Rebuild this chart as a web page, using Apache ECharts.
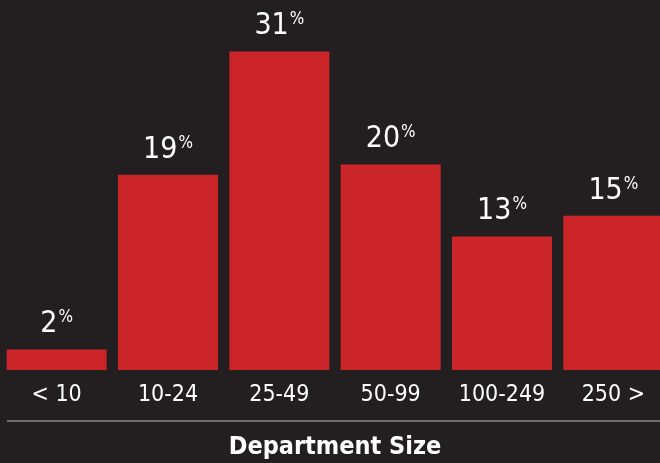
<!DOCTYPE html>
<html>
<head>
<meta charset="utf-8">
<script src="https://cdn.jsdelivr.net/npm/echarts@6/dist/echarts.min.js"></script>
<style>
  html, body { margin: 0; padding: 0; background: #231f20; }
  #chart { width: 660px; height: 463px; }
</style>
</head>
<body>
<div id="chart"></div>
<script>
// Share of departments by size band
const categories = ['< 10', '10-24', '25-49', '50-99', '100-249', '250 >'];
const shares = [2, 19, 31, 20, 13, 15];
const axisTitle = 'Department Size';

const FONT = '"Liberation Sans Narrow", "DejaVu Sans Condensed", "Roboto Condensed", Roboto, sans-serif';

const chart = echarts.init(document.getElementById('chart'));
chart.setOption({
  backgroundColor: '#231f20',
  animation: false,
  grid: { left: 1, width: 668, top: 0, bottom: 93, containLabel: false, outerBoundsMode: 'none' },
  xAxis: {
    type: 'category',
    data: categories,
    axisLine: { show: false },
    axisTick: { show: false },
    axisLabel: {
      interval: 0,
      color: '#ffffff',
      fontFamily: FONT,
      fontSize: 23,
      margin: 14
    }
  },
  yAxis: {
    type: 'value',
    min: 0,
    max: 36,
    show: false,
    splitLine: { show: false }
  },
  series: [{
    type: 'bar',
    data: shares,
    barWidth: 100,
    itemStyle: { color: '#cc2529' },
    label: {
      show: true,
      position: 'top',
      distance: 10,
      formatter: '{n|{c}}{p|%}',
      rich: {
        n: { color: '#ffffff', fontFamily: FONT, fontSize: 30, lineHeight: 30 },
        p: { color: '#ffffff', fontFamily: FONT, fontSize: 17, lineHeight: 30, verticalAlign: 'top', padding: [0, 0, 14, 1] }
      }
    }
  }],
  graphic: [
    {
      type: 'line',
      shape: { x1: 7, y1: 421, x2: 660, y2: 421 },
      style: { stroke: '#6d6a6b', lineWidth: 2 }
    },
    {
      type: 'text',
      x: 335,
      y: 447,
      style: {
        text: axisTitle,
        fill: '#ffffff',
        font: 'bold 25px ' + FONT,
        textAlign: 'center',
        textVerticalAlign: 'middle'
      }
    }
  ]
});
</script>
</body>
</html>
